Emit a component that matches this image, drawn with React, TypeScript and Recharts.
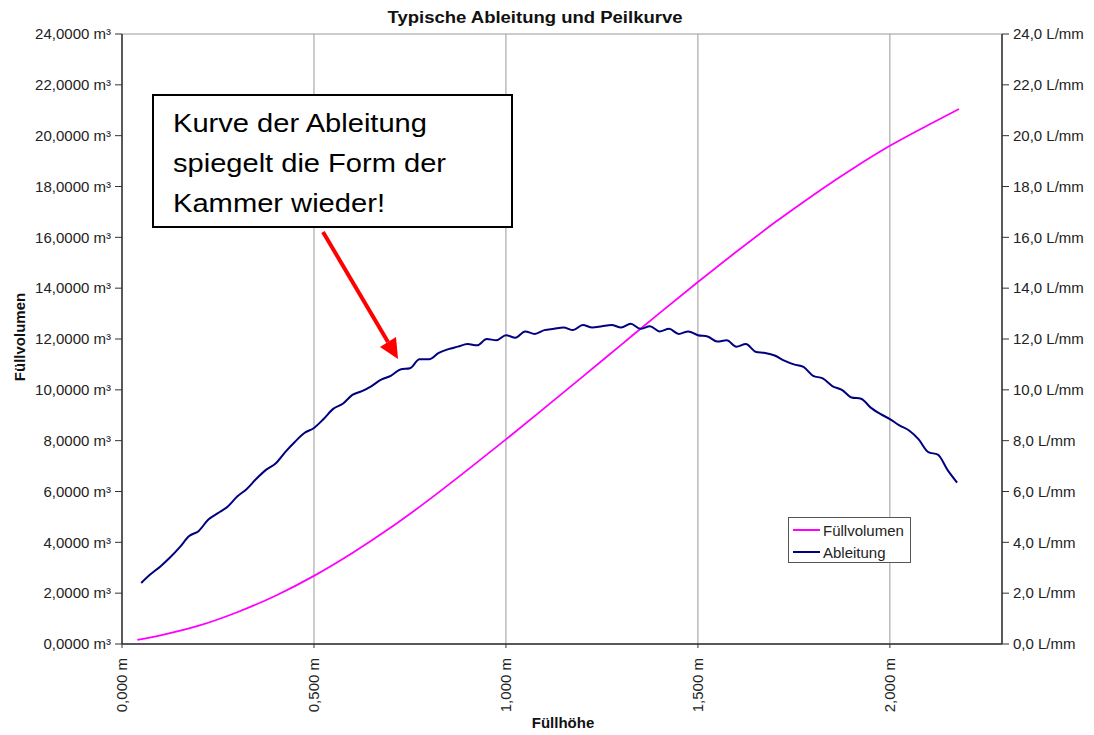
import React from 'react';
import { LineChart, Line, XAxis, YAxis, CartesianGrid } from 'recharts';

const FONT = '"Liberation Sans", Arial, sans-serif';

// Füllhöhe (m) / Füllvolumen (m³)
const volumenHoehe = [0.04, 0.1, 0.2, 0.3, 0.4, 0.5, 0.6, 0.7, 0.8, 0.9, 1.0, 1.1, 1.2, 1.3, 1.4, 1.5, 1.6, 1.7, 1.8, 1.9, 2.0, 2.1, 2.18];
const volumenWerte = [0.16, 0.34, 0.72, 1.25, 1.9, 2.68, 3.58, 4.58, 5.68, 6.85, 8.05, 9.28, 10.52, 11.77, 13.02, 14.24, 15.43, 16.58, 17.66, 18.67, 19.6, 20.42, 21.05];

// Füllhöhe (m) / Ableitung (L/mm)
const ableitungHoehe = [
  0.05, 0.075, 0.1, 0.125, 0.15, 0.175, 0.2, 0.225, 0.25, 0.275,
  0.3, 0.325, 0.35, 0.375, 0.4, 0.425, 0.45, 0.475, 0.5, 0.525,
  0.55, 0.575, 0.6, 0.625, 0.65, 0.675, 0.7, 0.725, 0.75, 0.775,
  0.8, 0.825, 0.85, 0.875, 0.9, 0.925, 0.95, 0.975, 1.0, 1.025,
  1.05, 1.075, 1.1, 1.125, 1.15, 1.175, 1.2, 1.225, 1.25, 1.275,
  1.3, 1.325, 1.35, 1.375, 1.4, 1.425, 1.45, 1.475, 1.5, 1.525,
  1.55, 1.575, 1.6, 1.625, 1.65, 1.675, 1.7, 1.725, 1.75, 1.775,
  1.8, 1.825, 1.85, 1.875, 1.9, 1.925, 1.95, 1.975, 2.0, 2.025,
  2.05, 2.075, 2.1, 2.125, 2.15, 2.175,
];
const ableitungWerte = [
  2.4, 2.75, 3.05, 3.4, 3.8, 4.25, 4.45, 4.9, 5.15, 5.4,
  5.8, 6.1, 6.5, 6.85, 7.1, 7.55, 7.95, 8.3, 8.5, 8.85,
  9.25, 9.45, 9.8, 9.95, 10.15, 10.4, 10.55, 10.8, 10.85, 11.2,
  11.2, 11.45, 11.6, 11.7, 11.8, 11.75, 12.0, 11.95, 12.15, 12.05,
  12.3, 12.2, 12.35, 12.4, 12.45, 12.35, 12.55, 12.45, 12.5, 12.55,
  12.45, 12.6, 12.4, 12.5, 12.3, 12.4, 12.2, 12.3, 12.15, 12.1,
  11.9, 11.95, 11.7, 11.8, 11.5, 11.45, 11.35, 11.15, 11.0, 10.9,
  10.55, 10.45, 10.15, 10.0, 9.7, 9.65, 9.3, 9.05, 8.85, 8.6,
  8.4, 8.05, 7.55, 7.45, 6.85, 6.35,
];

const xTicks = [0, 0.5, 1.0, 1.5, 2.0];
const yTicks = [0, 2, 4, 6, 8, 10, 12, 14, 16, 18, 20, 22, 24];
const annotationLines = ['Kurve der Ableitung', 'spiegelt die Form der', 'Kammer wieder!'];
const annotationWidths = [254, 273, 212];
const legendItems = [
  { name: 'Füllvolumen', color: '#FF00FF' },
  { name: 'Ableitung', color: '#000080' },
];

const volumenData = volumenHoehe.map((h, i) => ({ h, v: volumenWerte[i] }));
const ableitungData = ableitungHoehe.map((h, i) => ({ h, v: ableitungWerte[i] }));

const komma = (v: number, d: number) => v.toFixed(d).replace('.', ',');

const XTick = (props: any) => {
  const { x, y, payload } = props;
  const tx = x + 5;
  const ty = y + 8;
  return (
    <text x={tx} y={ty} transform={`rotate(-90, ${tx}, ${ty})`} textAnchor="end"
      fontSize={15} fontFamily={FONT} fill="#222">
      {komma(payload.value, 3)} m
    </text>
  );
};

export default function App() {
  return (
    <div style={{ position: 'absolute', left: 0, top: 0, width: 1094, height: 735, background: '#fff' }}>
      <LineChart width={1094} height={735} margin={{ top: 34, right: 0, bottom: 0, left: 0 }}>
        <CartesianGrid stroke="#999" strokeWidth={1} />
        <XAxis dataKey="h" type="number" domain={[0, 2.292]} ticks={xTicks} allowDataOverflow
          height={91} tickSize={4} tick={<XTick />} axisLine={{ stroke: '#333', strokeWidth: 1.5 }}
          tickLine={{ stroke: '#333' }} />
        <YAxis yAxisId="left" domain={[0, 24]} ticks={yTicks} width={122} tickSize={7} tickMargin={4}
          tickFormatter={(v: number) => `${komma(v, 4)} m³`}
          tick={{ fontSize: 15, fontFamily: FONT, fill: '#222' }}
          axisLine={{ stroke: '#333', strokeWidth: 1.5 }} tickLine={{ stroke: '#333' }} />
        <YAxis yAxisId="right" orientation="right" domain={[0, 24]} ticks={yTicks} width={92} tickSize={7} tickMargin={4}
          tickFormatter={(v: number) => `${komma(v, 1)} L/mm`}
          tick={{ fontSize: 15, fontFamily: FONT, fill: '#222' }}
          axisLine={{ stroke: '#333', strokeWidth: 1.5 }} tickLine={{ stroke: '#333' }} />
        <Line yAxisId="left" data={volumenData} dataKey="v" name="Füllvolumen" type="monotone"
          stroke="#FF00FF" strokeWidth={1.8} dot={false} isAnimationActive={false} />
        <Line yAxisId="right" data={ableitungData} dataKey="v" name="Ableitung" type="monotone"
          stroke="#000080" strokeWidth={2} dot={false} isAnimationActive={false} />
      </LineChart>
      <div style={{
        position: 'absolute', left: 788, top: 517, width: 121, height: 44, border: '1px solid #555',
        background: '#fff', fontFamily: FONT, fontSize: 15, color: '#222',
      }}>
        {legendItems.map((it, i) => (
          <div key={it.name} style={{ display: 'flex', alignItems: 'center', height: 22, marginTop: i === 0 ? 1 : 0 }}>
            <div style={{ width: 27, height: 2, background: it.color, marginLeft: 4, marginRight: 3 }} />
            <span>{it.name}</span>
          </div>
        ))}
      </div>
      <svg width={1094} height={735} style={{ position: 'absolute', left: 0, top: 0, pointerEvents: 'none' }}>
        <text x={535} y={23} textAnchor="middle" fontSize={16} fontWeight="bold" fontFamily={FONT} fill="#111"
          textLength={295} lengthAdjust="spacingAndGlyphs">
          Typische Ableitung und Peilkurve
        </text>
        <text x={563} y={728} textAnchor="middle" fontSize={15} fontWeight="bold" fontFamily={FONT} fill="#111">
          Füllhöhe
        </text>
        <text x={25} y={337} textAnchor="middle" transform="rotate(-90, 25, 337)" fontSize={15} fontWeight="bold"
          fontFamily={FONT} fill="#111">
          Füllvolumen
        </text>
        <rect x={153} y={95} width={359} height={132} fill="#fff" stroke="#000" strokeWidth={2} />
        {annotationLines.map((t, i) => (
          <text key={t} x={173} y={132 + i * 40} fontSize={26} fontFamily={FONT} fill="#000"
            textLength={annotationWidths[i]} lengthAdjust="spacingAndGlyphs">{t}</text>
        ))}
        <line x1={323} y1={232} x2={388} y2={342} stroke="#FF0000" strokeWidth={4} />
        <polygon points="398,359 380,347 396,337" fill="#FF0000" />
      </svg>
    </div>
  );
}
